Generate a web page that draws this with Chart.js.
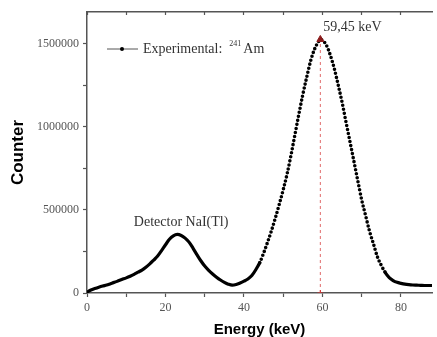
<!DOCTYPE html>
<html>
<head>
<meta charset="utf-8">
<script src="https://cdn.jsdelivr.net/npm/chart.js@4.4.0/dist/chart.umd.min.js"></script>
<style>
html,body{margin:0;padding:0;background:#fff;overflow:hidden}
#wrap{width:437px;height:337px}
</style>
</head>
<body>
<div id="wrap"><canvas id="spec" width="437" height="337"></canvas></div>
<script>
// ============ Data ============
const energy = [0,1,2,3,4,5,6,7,8,9,10,11,12,13,14,15,16,17,18,19,20,21,22,23,24,25,26,27,28,29,
  30,31,32,33,34,35,36,37,38,39,40,41,42,43,44,45,46,47,48,49,50,51,52,53,54,55,56,57,58,59,59.45,
  60,61,62,63,64,65,66,67,68,69,70,71,72,73,74,75,76,77,78,79,80,81,82,83,84,85,86,87,88];
const counts = [6000,18000,27000,35000,42000,48000,56000,64000,73000,82000,
  91000,101000,112000,125000,138000,155000,175000,198000,222000,255000,
  290000,323000,344000,352000,346000,330000,306000,270000,231000,194000,
  162000,136000,114000,95000,78000,64000,53000,47000,51000,60000,
  71000,84000,105000,140000,182000,240000,305000,375000,452000,535000,
  622000,718000,832000,955000,1078000,1195000,1300000,1398000,1468000,1512000,1525000,
  1520000,1490000,1430000,1350000,1251000,1146000,1027000,910000,793000,674000,
  559000,464000,370000,294000,217000,165000,123000,93000,75000,64000,
  58000,53000,50000,48000,47000,46000,45000,45000,45000];

const xTicks = [0,10,20,30,40,50,60,70,80];
const xTickLabels = [0,20,40,60,80];
const yTicks = [0,250000,500000,750000,1000000,1250000,1500000];
const yTickLabels = [0,500000,1000000,1500000];

const peakEnergy = 59.45;
const peakCount = 1525000;
const peakLabel = "59,45 keV";
const detectorLabel = "Detector NaI(Tl)";
const detectorPeak = [22.7, 352000];
const legendText = ["Experimental:", "241", "Am"];

const xMin = 0, xMax = 87.9;
const yMin = 0, yMax = 1690000;

const serif = "'Liberation Serif','Times New Roman',serif";
const sans = "'Liberation Sans',Arial,sans-serif";
const axisGray = "#555";

// ============ Text annotations + inset legend ============
const annotate = {
  id: "annotate",
  afterDatasetsDraw(chart){
    const {ctx, chartArea:a, scales:{x, y}} = chart;
    ctx.save();
    ctx.fillStyle = "#333";
    ctx.textBaseline = "alphabetic";
    ctx.font = "14px " + serif;
    ctx.textAlign = "left";
    ctx.fillText(peakLabel, x.getPixelForValue(peakEnergy) + 3, y.getPixelForValue(peakCount) - 8);
    ctx.textAlign = "center";
    ctx.fillText(detectorLabel, x.getPixelForValue(detectorPeak[0]) + 5, y.getPixelForValue(detectorPeak[1]) - 8);

    // legend
    const ly = a.top + 37, lx = a.left + 20;
    ctx.strokeStyle = axisGray; ctx.lineWidth = 1;
    ctx.beginPath(); ctx.moveTo(lx, ly); ctx.lineTo(lx + 31, ly); ctx.stroke();
    ctx.fillStyle = "#000";
    ctx.beginPath(); ctx.arc(lx + 15, ly, 2, 0, Math.PI * 2); ctx.fill();
    ctx.fillStyle = "#333";
    ctx.textAlign = "left";
    let tx = lx + 36;
    ctx.font = "14px " + serif;
    ctx.fillText(legendText[0], tx, ly + 4);
    tx += ctx.measureText(legendText[0]).width + 7;
    ctx.font = "8px " + serif;
    ctx.fillText(legendText[1], tx, ly - 3);
    tx += ctx.measureText(legendText[1]).width + 2;
    ctx.font = "14px " + serif;
    ctx.fillText(legendText[2], tx, ly + 4);
    ctx.restore();
  }
};

const spectrum = energy.map((e, i) => ({x: e, y: counts[i]}));
const inPeak = c => energy[c.p0DataIndex] >= 44 && energy[c.p1DataIndex] <= 76;
const setTicks = vals => s => { s.ticks = vals.map(v => ({value: v})); };

new Chart(document.getElementById("spec"), {
  type: "line",
  data: {
    datasets: [
      {
        data: [{x: peakEnergy, y: 0}, {x: peakEnergy, y: peakCount}],
        borderColor: "#e06a6a", borderWidth: 1, borderDash: [3, 3],
        pointStyle: ["cross", "triangle"], pointRadius: [3, 4],
        pointBackgroundColor: "#8b1a1a", pointBorderColor: ["#d03030", "#8b1a1a"], pointBorderWidth: 1
      },
      {
        data: spectrum,
        borderColor: "#000", borderWidth: 3.2, pointRadius: 0,
        borderCapStyle: "round", borderJoinStyle: "round",
        cubicInterpolationMode: "monotone", fill: false,
        segment: {
          borderDash: c => inPeak(c) ? [0, 4.1] : undefined,
          borderWidth: c => inPeak(c) ? 3.6 : undefined
        }
      }
    ]
  },
  options: {
    responsive: false,
    animation: false,
    devicePixelRatio: 1,
    events: [],
    layout: {padding: 0},
    plugins: {legend: {display: false}, tooltip: {enabled: false}},
    scales: {
      x: {
        type: "linear", position: "bottom", min: xMin, max: xMax,
        afterBuildTicks: setTicks(xTicks),
        afterFit: s => { s.height = 44; },
        border: {color: axisGray, width: 1.5},
        grid: {drawOnChartArea: false, tickLength: 4, tickColor: axisGray, tickWidth: 1.2},
        ticks: {
          autoSkip: false, maxRotation: 0,
          padding: 4, color: axisGray, font: {family: serif, size: 12},
          callback: v => xTickLabels.includes(v) ? String(v) : ""
        },
        title: {display: true, text: "Energy (keV)", color: "#000",
          font: {family: sans, size: 15, weight: "bold", lineHeight: 1}, padding: {top: 0, bottom: 0}}
      },
      xTop: {
        type: "linear", position: "top", min: xMin, max: xMax,
        afterBuildTicks: setTicks(xTicks),
        afterFit: s => { s.height = 12; },
        border: {color: axisGray, width: 1.5},
        grid: {drawOnChartArea: false, tickLength: -3, tickColor: axisGray, tickWidth: 1.2},
        ticks: {autoSkip: false, display: false}
      },
      y: {
        type: "linear", position: "left", min: yMin, max: yMax,
        afterBuildTicks: setTicks(yTicks),
        afterFit: s => { s.width = 87; },
        border: {color: axisGray, width: 1.5},
        grid: {drawOnChartArea: false, tickLength: 4, tickColor: axisGray, tickWidth: 1.2},
        ticks: {
          autoSkip: false,
          padding: 4, color: axisGray, font: {family: serif, size: 12},
          callback: v => yTickLabels.includes(v) ? String(v) : ""
        },
        title: {display: true, text: "Counter", color: "#000",
          font: {family: sans, size: 17, weight: "bold", lineHeight: 1}, padding: {top: 10, bottom: 0}}
      }
    }
  },
  plugins: [annotate]
});
</script>
</body>
</html>
